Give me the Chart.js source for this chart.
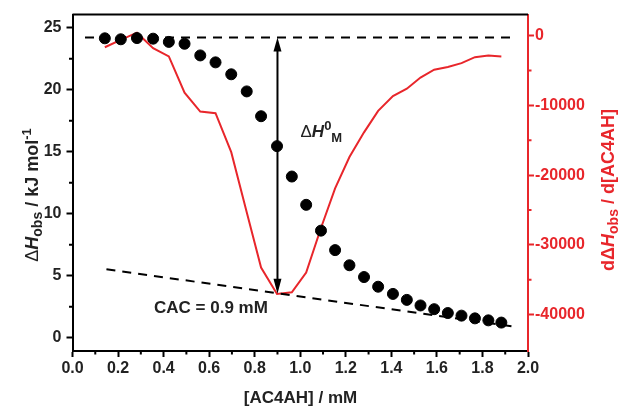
<!DOCTYPE html>
<html><head><meta charset="utf-8">
<script src="https://cdn.jsdelivr.net/npm/chart.js@4.4.0/dist/chart.umd.min.js"></script>
<style>html,body{margin:0;padding:0;background:#fff;}#wrap{width:619px;height:406px;}</style>
</head><body><div id="wrap"><canvas id="c" width="619" height="406"></canvas></div>
<script>
// ---- data ----
const concentration = [0.142,0.212,0.283,0.354,0.423,0.492,0.561,0.628,0.697,0.765,0.828,0.898,0.963,1.026,1.091,1.153,1.216,1.280,1.342,1.407,1.468,1.528,1.588,1.648,1.708,1.767,1.826,1.883];
const deltaH = [24.14,24.06,24.16,24.11,23.85,23.70,22.76,22.20,21.24,19.86,17.86,15.45,13.00,10.72,8.64,7.07,5.85,4.90,4.12,3.54,3.06,2.61,2.31,2.00,1.79,1.57,1.41,1.23];
const derivative = [-1660,-600,425,-1800,-2980,-8180,-10880,-11120,-16700,-25300,-33250,-37020,-36800,-33960,-27570,-21900,-17400,-13860,-10780,-8650,-7600,-6000,-4880,-4500,-3930,-3080,-2840,-2980];
const upperLineX = [0.055, 1.93];
const upperLineY = [24.2, 24.2];
const lowerLineX = [0.149, 1.951];
const lowerLineY = [5.53, 0.88];
const arrowX = 0.9;
const arrowY = [24.2, 3.55];
const cacLabel = 'CAC = 0.9 mM';
const xTickValues = [0,0.2,0.4,0.6,0.8,1.0,1.2,1.4,1.6,1.8,2.0];
const xMinorTicks = [0.1,0.3,0.5,0.7,0.9,1.1,1.3,1.5,1.7,1.9];
const yTickValues = [0,5,10,15,20,25];
const yMinorTicks = [2.5,7.5,12.5,17.5,22.5];
const y2TickValues = [0,-10000,-20000,-30000,-40000];
const y2MinorTicks = [-5000,-15000,-25000,-35000];

const RED = '#e8262b';
const FF = "'Liberation Sans', Arial, sans-serif";

function pts(xs, ys){ return xs.map((x,i)=>({x:x, y:ys[i]})); }

function drawRich(ctx, segs, x, y, rot, color, align){
  ctx.save(); ctx.translate(x,y); if (rot) ctx.rotate(rot);
  let w = 0; for (const s of segs){ ctx.font = s.f; w += ctx.measureText(s.t).width; }
  let cx = align === 'center' ? -w/2 : 0;
  ctx.fillStyle = color; ctx.textBaseline = 'alphabetic'; ctx.textAlign = 'left';
  for (const s of segs){ ctx.font = s.f; ctx.fillText(s.t, cx, s.dy||0); cx += ctx.measureText(s.t).width; }
  ctx.restore();
}

const decor = {
  id: 'decor',
  afterDraw(chart){
    const ctx = chart.ctx, a = chart.chartArea;
    const xs = chart.scales.x, ys = chart.scales.y, y2 = chart.scales.y2;
    ctx.save();
    // top frame
    ctx.strokeStyle = '#000'; ctx.lineWidth = 2;
    ctx.beginPath(); ctx.moveTo(a.left, a.top); ctx.lineTo(a.right, a.top); ctx.stroke();
    // minor ticks
    ctx.lineWidth = 2;
    ctx.beginPath();
    xMinorTicks.forEach(v=>{ const p = xs.getPixelForValue(v); ctx.moveTo(p, a.bottom); ctx.lineTo(p, a.bottom+3.5); });
    yMinorTicks.forEach(v=>{ const p = ys.getPixelForValue(v); ctx.moveTo(a.left-3.5, p); ctx.lineTo(a.left, p); });
    ctx.stroke();
    ctx.strokeStyle = RED; ctx.beginPath();
    y2MinorTicks.forEach(v=>{ const p = y2.getPixelForValue(v); ctx.moveTo(a.right, p); ctx.lineTo(a.right+3.5, p); });
    ctx.stroke();
    // double arrow
    const ax = xs.getPixelForValue(arrowX);
    const t = ys.getPixelForValue(arrowY[0]), b = ys.getPixelForValue(arrowY[1]);
    ctx.strokeStyle = '#000'; ctx.fillStyle = '#000'; ctx.lineWidth = 2;
    ctx.beginPath(); ctx.moveTo(ax, t+10); ctx.lineTo(ax, b-10); ctx.stroke();
    ctx.beginPath(); ctx.moveTo(ax, t); ctx.lineTo(ax-4, t+14); ctx.lineTo(ax+4, t+14); ctx.closePath(); ctx.fill();
    ctx.beginPath(); ctx.moveTo(ax, b); ctx.lineTo(ax-4, b-15); ctx.lineTo(ax+4, b-15); ctx.closePath(); ctx.fill();
    ctx.restore();
    // annotations
    drawRich(ctx, [
      {t:'\u0394', f:'17px '+FF},
      {t:'H', f:'italic bold 17px '+FF},
      {t:'0', f:'bold 13px '+FF, dy:-7},
      {t:'M', f:'bold 13px '+FF, dy:5}
    ], 300.5, 137, 0, '#222', 'left');
    drawRich(ctx, [{t:cacLabel, f:'bold 17px '+FF}], 154, 313, 0, '#222', 'left');
    // axis titles
    drawRich(ctx, [{t:'[AC4AH] / mM', f:'bold 17px '+FF}], 300.5, 402.5, 0, '#222', 'center');
    drawRich(ctx, [
      {t:'\u0394', f:'18px '+FF},
      {t:'H', f:'italic bold 18px '+FF},
      {t:'obs', f:'bold 14px '+FF, dy:4},
      {t:' / kJ mol', f:'bold 18px '+FF},
      {t:'-1', f:'bold 13px '+FF, dy:-7}
    ], 38, 195, -Math.PI/2, '#222', 'center');
    drawRich(ctx, [
      {t:'d\u0394', f:'bold 18px '+FF},
      {t:'H', f:'italic bold 18px '+FF},
      {t:'obs', f:'bold 14px '+FF, dy:4},
      {t:' / d[AC4AH]', f:'bold 18px '+FF}
    ], 614, 190, -Math.PI/2, RED, 'center');
  }
};

const tickFont = {family: FF, size: 16, weight: 'bold'};

new Chart(document.getElementById('c'), {
  type: 'scatter',
  data: {
    datasets: [
      {label:'dH', data: pts(concentration, deltaH), yAxisID:'y', backgroundColor:'#000', borderColor:'#000', pointRadius:5.5, pointHoverRadius:5.5, showLine:false, order:0},
      {label:'upper', data: pts(upperLineX, upperLineY), yAxisID:'y', showLine:true, borderColor:'#000', borderWidth:2, borderDash:[9,7], pointRadius:0, order:1},
      {label:'lower', data: pts(lowerLineX, lowerLineY), yAxisID:'y', showLine:true, borderColor:'#000', borderWidth:2, borderDash:[9,7], pointRadius:0, order:2},
      {label:'deriv', data: pts(concentration, derivative), yAxisID:'y2', showLine:true, borderColor:RED, borderWidth:2, pointRadius:0, tension:0, order:3}
    ]
  },
  options: {
    responsive:false, animation:false, devicePixelRatio:1,
    layout:{padding:{top:11,left:0,right:0,bottom:0}},
    plugins:{legend:{display:false}, tooltip:{enabled:false}},
    events: [],
    scales:{
      x:{type:'linear', position:'bottom', min:0, max:2,
        afterBuildTicks:s=>{ s.ticks = xTickValues.map(v=>({value:v})); },
        afterFit:s=>{ s.height = 55; },
        ticks:{callback:v=>v.toFixed(1), font:tickFont, color:'#222', padding:2, maxRotation:0, autoSkip:false},
        grid:{drawOnChartArea:false, tickLength:6, tickWidth:2, tickColor:'#000'},
        border:{color:'#000', width:2}},
      y:{type:'linear', position:'left', min:-1.06, max:26.05,
        afterBuildTicks:s=>{ s.ticks = yTickValues.map(v=>({value:v})); },
        afterFit:s=>{ s.width = 72.5; },
        ticks:{callback:v=>String(v), font:tickFont, color:'#222', padding:5},
        grid:{drawOnChartArea:false, tickLength:6, tickWidth:2, tickColor:'#000'},
        border:{color:'#000', width:2}},
      y2:{type:'linear', position:'right', min:-45206, max:3021,
        afterBuildTicks:s=>{ s.ticks = y2TickValues.map(v=>({value:v})); },
        afterFit:s=>{ s.width = 91; },
        ticks:{callback:v=>String(v), font:tickFont, color:RED, padding:1},
        grid:{drawOnChartArea:false, tickLength:6, tickWidth:2, tickColor:RED},
        border:{color:RED, width:2}}
    }
  },
  plugins:[decor]
});
</script></body></html>
